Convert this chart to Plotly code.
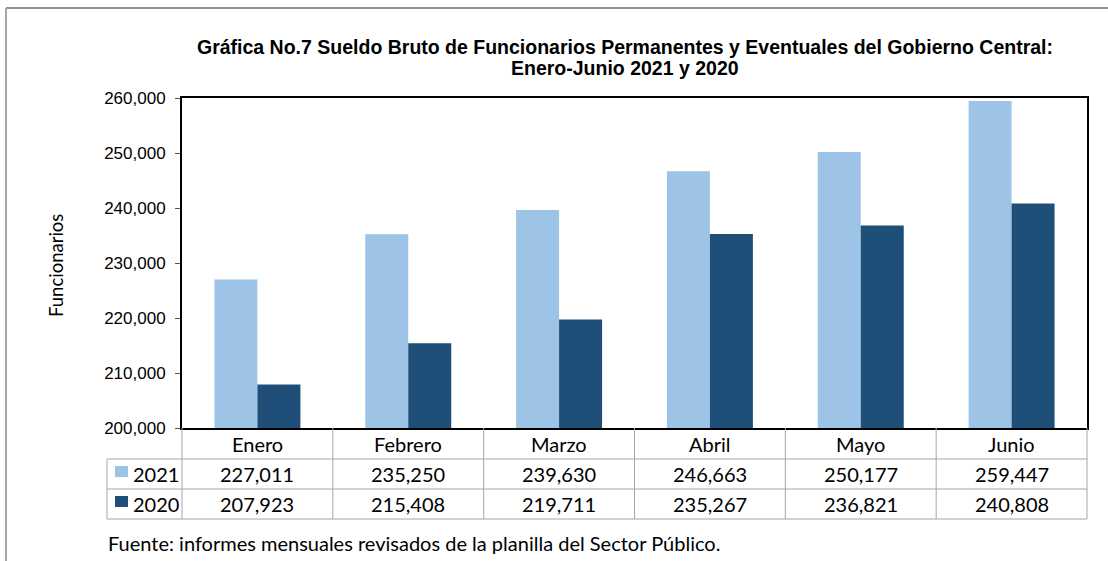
import plotly.graph_objects as go

months = ["Enero", "Febrero", "Marzo", "Abril", "Mayo", "Junio"]
v2021 = [227011, 235250, 239630, 246663, 250177, 259447]
v2020 = [207923, 215408, 219711, 235267, 236821, 240808]
series_names = ["2021", "2020"]
colors = ["#9DC3E6", "#1F4E79"]
yticks = [200000, 210000, 220000, 230000, 240000, 250000, 260000]

W, H = 1108, 561
L, R, T, B = 182, 1087, 98, 428
PW, PH = R - L, B - T


def py(p):
    return (B - p) / PH


def px(p):
    return (p - L) / PW


idx = list(range(len(months)))
fig = go.Figure()
for name, vals, col in zip(series_names, [v2021, v2020], colors):
    fig.add_trace(go.Bar(x=idx, y=vals, name=name, marker=dict(color=col, line=dict(width=0)),
                         showlegend=False, hoverinfo="skip"))

fig.update_layout(
    width=W, height=H,
    margin=dict(l=L, r=W - R, t=T, b=H - B),
    paper_bgcolor="white", plot_bgcolor="white",
    barmode="group", bargap=0.43, bargroupgap=0,
    xaxis=dict(range=[-0.5, len(months) - 0.5], showticklabels=False, showgrid=False,
               showline=True, mirror=True, linecolor="black", linewidth=2, zeroline=False,
               ticks=""),
    yaxis=dict(range=[200000, 260000], tickvals=yticks, tickformat=",d", showgrid=False,
               showline=True, mirror=True, linecolor="black", linewidth=2, zeroline=False,
               ticks="outside", ticklen=5, tickcolor="#555555", ticklabelstandoff=6,
               tickfont=dict(family="Liberation Sans, Arial", size=17, color="black")),
    font=dict(family="Lato", color="black"),
)

shapes = []
grid = dict(color="#A6A6A6", width=1)
for k in range(len(months) + 1):
    xx = px(L + k * PW / len(months))
    shapes.append(dict(type="line", xref="paper", yref="paper", x0=xx, x1=xx, y0=py(428), y1=py(519), line=grid))
shapes.append(dict(type="line", xref="paper", yref="paper", x0=px(107), x1=px(107), y0=py(459), y1=py(519), line=grid))
for yy in [459, 489, 519]:
    shapes.append(dict(type="line", xref="paper", yref="paper", x0=px(107), x1=1, y0=py(yy), y1=py(yy), line=grid))
for (y0, y1), col in zip([(466, 477), (496, 507)], colors):
    shapes.append(dict(type="rect", xref="paper", yref="paper", x0=px(115), x1=px(128), y0=py(y1), y1=py(y0),
                       fillcolor=col, line=dict(width=0)))
shapes.append(dict(type="line", xref="paper", yref="paper", x0=px(6), x1=px(1108), y0=py(8), y1=py(8),
                   line=dict(color="#6E6E6E", width=1.5)))
shapes.append(dict(type="line", xref="paper", yref="paper", x0=px(6), x1=px(6), y0=py(8), y1=py(561),
                   line=dict(color="#A6A6A6", width=2)))
fig.update_layout(shapes=shapes)

ann = []
cellfont = dict(family="Lato", size=20, color="black")
for i, m in enumerate(months):
    ann.append(dict(x=i, xref="x", y=py(444), yref="paper", text=m, showarrow=False, font=cellfont,
                    xanchor="center", yanchor="middle"))
    ann.append(dict(x=i, xref="x", y=py(474), yref="paper", text=f"{v2021[i]:,}", showarrow=False, font=cellfont,
                    xanchor="center", yanchor="middle"))
    ann.append(dict(x=i, xref="x", y=py(504), yref="paper", text=f"{v2020[i]:,}", showarrow=False, font=cellfont,
                    xanchor="center", yanchor="middle"))
for name, yy in zip(series_names, [474, 504]):
    ann.append(dict(x=px(131), xref="paper", y=py(yy), yref="paper", text=name, showarrow=False, font=cellfont,
                    xanchor="left", yanchor="middle"))
titlefont = dict(family="Liberation Sans, Arial", size=19.5, color="black")
ann.append(dict(x=px(625), xref="paper", y=py(47), yref="paper",
                text="<b>Gráfica No.7 Sueldo Bruto de Funcionarios Permanentes y Eventuales del Gobierno Central:</b>",
                showarrow=False, font=titlefont, xanchor="center", yanchor="middle"))
ann.append(dict(x=px(625), xref="paper", y=py(68), yref="paper",
                text="<b>Enero-Junio 2021 y 2020</b>",
                showarrow=False, font=titlefont, xanchor="center", yanchor="middle"))
ann.append(dict(x=px(56), xref="paper", y=py(266), yref="paper", text="Funcionarios", textangle=-90,
                showarrow=False, font=dict(family="Lato", size=18.5, color="black"),
                xanchor="center", yanchor="middle"))
ann.append(dict(x=px(106), xref="paper", y=py(543), yref="paper",
                text="Fuente: informes mensuales revisados de la planilla del Sector Público.",
                showarrow=False, font=dict(family="Lato", size=20, color="black"),
                xanchor="left", yanchor="middle"))
fig.update_layout(annotations=ann)

fig.write_html("out.html", config={"displayModeBar": False},
               post_script="document.body.style.margin='0';")
